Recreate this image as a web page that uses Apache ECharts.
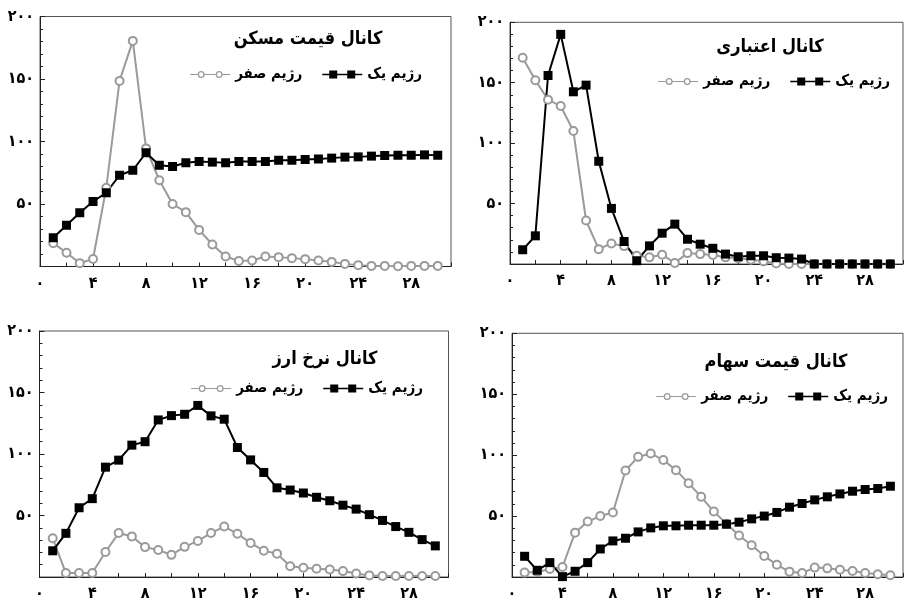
<!DOCTYPE html>
<html>
<head>
<meta charset="utf-8">
<script src="https://cdn.jsdelivr.net/npm/echarts@6/dist/echarts.min.js"></script>
<style>
  html, body { margin: 0; padding: 0; background: #fff; }
  #chart { width: 906px; height: 602px; }
</style>
</head>
<body>
<div id="chart"></div>
<script>
// x positions (periods)
const periods = [1, 2, 3, 4, 5, 6, 7, 8, 9, 10, 11, 12, 13, 14, 15, 16, 17, 18, 19, 20, 21, 22, 23, 24, 25, 26, 27, 28, 29, 30]

// series names
const nameOne = 'رژیم یک'
const nameZero = 'رژیم صفر'

// panel titles
const titleHousing = 'کانال قیمت مسکن'
const titleCredit = 'کانال اعتباری'
const titleExchange = 'کانال نرخ ارز'
const titleStock = 'کانال قیمت سهام'

// values
const housingOne = [23, 33, 43, 52, 59, 73, 77, 91, 81, 80, 83, 84, 83.5, 83, 84, 84, 84, 85, 85, 85.6, 86, 86.7, 87.5, 87.7, 88.3, 88.8, 89, 89, 89.3, 89]
const housingZero = [18.7, 11, 2.7, 6, 63, 148.5, 180.5, 94.5, 69, 50, 43.5, 29.3, 17.6, 8, 4.5, 4.8, 8, 7.5, 6.7, 5.9, 4.8, 3.7, 2.1, 1.1, 0.5, 0.5, 0.3, 0.5, 0.5, 0.5]

const creditOne = [11.8, 23.3, 156, 190, 142.5, 148, 85, 46, 18.6, 2.7, 15, 25.5, 33, 20.5, 16.4, 13, 8.2, 6, 6.8, 6.8, 5.2, 4.9, 4.1, 0, 0, 0, 0, 0, 0, 0]
const creditZero = [170.7, 152, 136, 130.7, 110, 36, 12.3, 17, 14.8, 6.8, 5.5, 7.7, 0.8, 9, 8.2, 7.4, 5.5, 4.7, 3.6, 2.2, 0.5, 0, 0, 0, 0, 0, 0, 0, 0, 0]

const exchangeOne = [21.3, 35.5, 56.3, 63.7, 89.3, 95, 107.2, 110, 127.7, 131.2, 132.3, 139.5, 131, 128.3, 105.3, 95.2, 85, 72.5, 70.7, 68.3, 64.8, 62, 58.4, 55.2, 50.7, 46, 41, 36.3, 30.4, 25.3]
const exchangeZero = [31.5, 3.2, 3.2, 3.2, 20.3, 35.7, 33, 24.3, 22, 18, 24.5, 29.3, 35.7, 41, 35.2, 27.7, 21.3, 19, 8.8, 7.5, 6.7, 6.1, 4.8, 2.9, 1.3, 0.8, 0.8, 0.8, 0.8, 0.8]

const stockOne = [17, 5.5, 11.8, 0.3, 4.7, 11.8, 23, 29.6, 31.8, 37, 40.3, 42, 42, 42.5, 42.5, 42.5, 43.3, 45, 47.7, 50, 53, 57.3, 60.3, 63.3, 65.8, 68.2, 70.4, 71.8, 72.6, 74.5]
const stockZero = [3.6, 4.1, 6.6, 8.2, 36.4, 45.5, 50, 53, 87.4, 98.6, 101.4, 96, 87.7, 77, 65.8, 53.7, 43.8, 34, 26, 17.3, 10, 4.4, 3.3, 7.7, 7.1, 6, 4.9, 3.3, 2.2, 1.4]

// axis settings
const xMin = 0, xMax = 31, xStep = 4
const yMin = 0, yMax = 200, yStep = 50

const FONT = "'DejaVu Sans Condensed', 'DejaVu Sans', sans-serif"
const BLACK = '#000'
const GRAY = '#9a9a9a'

const toFa = v => String(v).replace(/\d/g, d => '۰۱۲۳۴۵۶۷۸۹'[d])
const pairs = ys => ys.map((y, i) => [periods[i], y])

// legend icons: line with two markers
const iconOne = 'path://M0 3.3L40 3.3L40 4.7L0 4.7Z M7 0L15 0L15 8L7 8Z M25 0L33 0L33 8L25 8Z'
const iconZero = 'path://M0 3.4L7.6 3.4L7.6 4.6L0 4.6Z M14.4 3.4L25.6 3.4L25.6 4.6L14.4 4.6Z M32.4 3.4L40 3.4L40 4.6L32.4 4.6Z ' +
    'M7.5 4A3.5 3.5 0 1 1 14.5 4A3.5 3.5 0 1 1 7.5 4Z M8.8 4A2.2 2.2 0 1 0 13.2 4A2.2 2.2 0 1 0 8.8 4Z ' +
    'M25.5 4A3.5 3.5 0 1 1 32.5 4A3.5 3.5 0 1 1 25.5 4Z M26.8 4A2.2 2.2 0 1 0 31.2 4A2.2 2.2 0 1 0 26.8 4Z'

const panels = [
    { title: titleHousing, one: housingOne, zero: housingZero,
      grid: { left: 40, top: 16.5, right: 455, bottom: 335.5 },
      titlePos: [308, 39], legend: { right: 484, top: 67 } },
    { title: titleCredit, one: creditOne, zero: creditZero,
      grid: { left: 510, top: 22.3, right: -5.6, bottom: 338 },
      titlePos: [770, 47], legend: { right: 16, top: 74 } },
    { title: titleExchange, one: exchangeOne, zero: exchangeZero,
      grid: { left: 39.5, top: 331, right: 457.5, bottom: 21 },
      titlePos: [325, 359], legend: { right: 483, top: 381 } },
    { title: titleStock, one: stockOne, zero: stockZero,
      grid: { left: 512, top: 333.3, right: -8.7, bottom: 25 },
      titlePos: [776, 362], legend: { right: 18, top: 389 } }
]

const chart = echarts.init(document.getElementById('chart'), null, { renderer: 'canvas' })

const option = {
    animation: false,
    backgroundColor: '#fff',
    grid: [],
    xAxis: [],
    yAxis: [],
    legend: [],
    graphic: [],
    series: []
}

panels.forEach((p, i) => {
    option.grid.push(Object.assign({ show: true, borderColor: '#555', borderWidth: 1 }, p.grid))
    option.xAxis.push({
        gridIndex: i,
        type: 'value',
        min: xMin,
        max: xMax,
        interval: xStep,
        axisLine: { lineStyle: { color: '#222', width: 1 } },
        axisTick: { inside: true, length: 4, lineStyle: { color: '#222' } },
        minorTick: { show: true, splitNumber: 2, length: 4, lineStyle: { color: '#222' } },
        splitLine: { show: false },
        axisLabel: {
            margin: 9,
            fontFamily: FONT,
            fontWeight: 'bold',
            fontSize: 16,
            color: '#000',
            formatter: v => (v % xStep === 0 ? toFa(v) : '')
        }
    })
    option.yAxis.push({
        gridIndex: i,
        type: 'value',
        min: yMin,
        max: yMax,
        interval: yStep,
        axisLine: { show: true, lineStyle: { color: '#222', width: 1 } },
        axisTick: { inside: true, length: 5, lineStyle: { color: '#222' } },
        minorTick: { show: true, splitNumber: 5, length: 3, lineStyle: { color: '#222' } },
        splitLine: { show: false },
        axisLabel: {
            margin: 6,
            showMinLabel: false,
            fontFamily: FONT,
            fontWeight: 'bold',
            fontSize: 16,
            color: '#000',
            formatter: v => toFa(v)
        }
    })
    option.legend.push({
        right: p.legend.right,
        top: p.legend.top,
        orient: 'horizontal',
        align: 'left',
        itemWidth: 40,
        itemHeight: 8,
        itemGap: 20,
        padding: 0,
        selectedMode: false,
        textStyle: { fontFamily: FONT, fontWeight: 'bold', fontSize: 15, color: '#000' },
        data: [
            { name: nameZero, icon: iconZero, itemStyle: { color: GRAY, borderWidth: 0 } },
            { name: nameOne, icon: iconOne, itemStyle: { color: BLACK, borderWidth: 0 } }
        ]
    })
    option.graphic.push({
        type: 'text',
        x: p.titlePos[0],
        y: p.titlePos[1],
        style: {
            text: p.title,
            font: 'bold 18px ' + FONT,
            fill: '#000',
            align: 'center',
            verticalAlign: 'middle'
        }
    })
    option.series.push({
        name: nameZero,
        type: 'line',
        xAxisIndex: i,
        yAxisIndex: i,
        data: pairs(p.zero),
        symbol: 'emptyCircle',
        symbolSize: 8,
        color: GRAY,
        lineStyle: { color: GRAY, width: 2 },
        itemStyle: { color: GRAY, borderWidth: 1.5 }
    })
    option.series.push({
        name: nameOne,
        type: 'line',
        xAxisIndex: i,
        yAxisIndex: i,
        data: pairs(p.one),
        symbol: 'rect',
        symbolSize: 9,
        color: BLACK,
        lineStyle: { color: BLACK, width: 2 },
        itemStyle: { color: BLACK }
    })
})

chart.setOption(option)
</script>
</body>
</html>
